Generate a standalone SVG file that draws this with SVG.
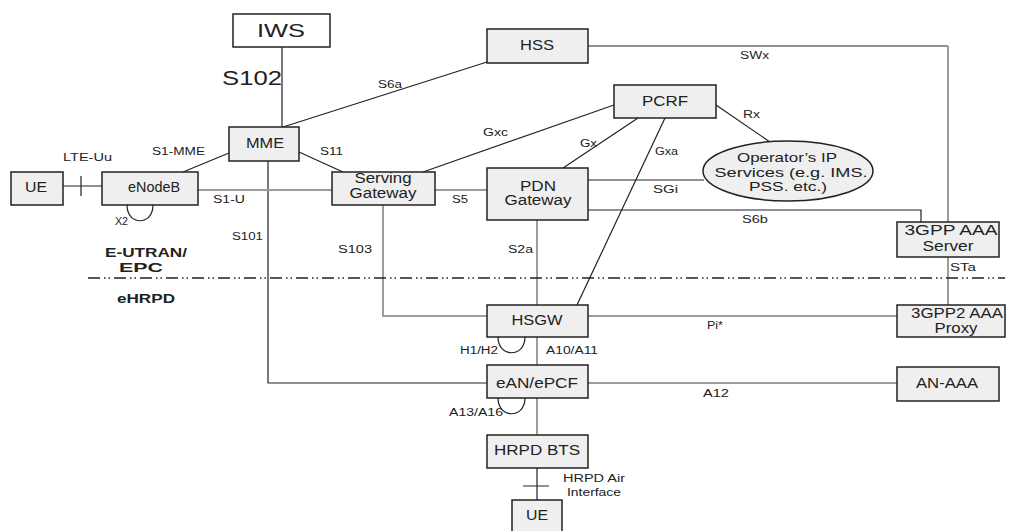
<svg xmlns="http://www.w3.org/2000/svg" width="1010" height="531" viewBox="0 0 1010 531">
<style>
.n rect,.n ellipse{fill:#efefef;stroke:#222;stroke-width:1.5}
.t{font-family:"Liberation Sans",Arial,sans-serif;fill:#222;text-anchor:middle}
.nt{font-size:14px}
.lb{font-size:10px;text-anchor:start}
.k{fill:none;stroke:#222;stroke-width:1.2}
.g{fill:none;stroke:#9c9c9c;stroke-width:2}
</style>
<rect width="1010" height="531" fill="#fff"/>
<g id="connectors">
<path class="k" d="M282,47V127"/>
<path class="k" d="M283,127L487,62"/>
<path class="k" d="M229,153L183,172"/>
<path class="k" d="M299,152L343,172"/>
<path class="k" d="M268,161V383H487"/>
<path class="k" d="M63,186H102M81,176V196"/>
<path class="g" d="M198,190H332"/>
<path class="g" d="M435,190H487"/>
<path class="g" d="M383,205V316H487"/>
<path class="g" d="M537,220V305"/>
<path class="k" d="M614,105L423,172"/>
<path class="k" d="M638,118L563,168"/>
<path class="k" d="M665,118L577,305"/>
<path class="k" d="M716,105L770,142"/>
<path class="k" d="M588,46H948"/>
<path class="g" d="M948,46V222"/>
<path class="k" d="M588,180H704"/>
<path class="k" d="M588,210H921V222"/>
<path class="g" d="M948,257V305"/>
<path class="g" d="M588,316H897"/>
<path class="g" d="M537,337V365"/>
<path class="g" d="M588,383H897"/>
<path class="g" d="M537,398V435"/>
<path class="k" d="M537,468V500M523,486H549"/>
<path class="k" d="M127,205C127,226 153,226 153,205"/>
<path class="k" d="M498,337C498,358 525,358 525,337"/>
<path class="k" d="M498,398C498,419 525,419 525,398"/>
<path d="M88,278H1005" fill="none" stroke="#222" stroke-width="1.5" stroke-dasharray="12,4,1.5,3,1.5,4"/>
</g>
<g id="labels">
<text class="t" x="222" y="85" font-size="20" text-anchor="start" textLength="60" lengthAdjust="spacingAndGlyphs" style="text-anchor:start">S102</text>
<text class="t lb" x="378" y="88" textLength="24" lengthAdjust="spacingAndGlyphs">S6a</text>
<text class="t lb" x="152" y="155" textLength="53" lengthAdjust="spacingAndGlyphs">S1-MME</text>
<text class="t lb" x="63" y="161" textLength="49" lengthAdjust="spacingAndGlyphs">LTE-Uu</text>
<text class="t lb" x="320" y="155" textLength="23" lengthAdjust="spacingAndGlyphs">S11</text>
<text class="t lb" x="483" y="136" textLength="25" lengthAdjust="spacingAndGlyphs">Gxc</text>
<text class="t lb" x="580" y="147" textLength="17" lengthAdjust="spacingAndGlyphs">Gx</text>
<text class="t lb" x="655" y="155" textLength="23" lengthAdjust="spacingAndGlyphs">Gxa</text>
<text class="t lb" x="740" y="59" textLength="29" lengthAdjust="spacingAndGlyphs">SWx</text>
<text class="t lb" x="743" y="118" textLength="17" lengthAdjust="spacingAndGlyphs">Rx</text>
<text class="t lb" x="213" y="203" textLength="32" lengthAdjust="spacingAndGlyphs">S1-U</text>
<text class="t lb" x="115" y="225" textLength="13" lengthAdjust="spacingAndGlyphs">X2</text>
<text class="t lb" x="232" y="240" textLength="31" lengthAdjust="spacingAndGlyphs">S101</text>
<text class="t lb" x="452" y="203" textLength="16" lengthAdjust="spacingAndGlyphs">S5</text>
<text class="t lb" x="338" y="253" textLength="34" lengthAdjust="spacingAndGlyphs">S103</text>
<text class="t lb" x="508" y="253" textLength="25" lengthAdjust="spacingAndGlyphs">S2a</text>
<text class="t lb" x="653" y="193" textLength="25" lengthAdjust="spacingAndGlyphs">SGi</text>
<text class="t lb" x="742" y="223" textLength="26" lengthAdjust="spacingAndGlyphs">S6b</text>
<text class="t lb" x="950" y="271" textLength="26" lengthAdjust="spacingAndGlyphs">STa</text>
<text class="t lb" x="707" y="329" textLength="16" lengthAdjust="spacingAndGlyphs">Pi*</text>
<text class="t lb" x="460" y="354" textLength="38" lengthAdjust="spacingAndGlyphs">H1/H2</text>
<text class="t lb" x="546" y="354" textLength="52" lengthAdjust="spacingAndGlyphs">A10/A11</text>
<text class="t lb" x="449" y="416" textLength="54" lengthAdjust="spacingAndGlyphs">A13/A16</text>
<text class="t lb" x="703" y="397" textLength="26" lengthAdjust="spacingAndGlyphs">A12</text>
<text class="t lb" x="563" y="482" textLength="62" lengthAdjust="spacingAndGlyphs">HRPD Air</text>
<text class="t lb" x="567" y="496" textLength="54" lengthAdjust="spacingAndGlyphs">Interface</text>
<text class="t" x="146" y="257" font-size="12" font-weight="bold" textLength="82" lengthAdjust="spacingAndGlyphs">E-UTRAN/</text>
<text class="t" x="141" y="272" font-size="12" font-weight="bold" textLength="44" lengthAdjust="spacingAndGlyphs">EPC</text>
<text class="t" x="146" y="303" font-size="12" font-weight="bold" textLength="58" lengthAdjust="spacingAndGlyphs">eHRPD</text>
</g>
<g id="IWS" class="n"><rect x="233" y="14" width="97" height="33" style="fill:#fff"/><text class="t" x="281" y="37" font-size="18" textLength="48" lengthAdjust="spacingAndGlyphs">IWS</text></g>
<g id="HSS" class="n"><rect x="487" y="29" width="101" height="34"/><text class="t nt" x="537" y="50" textLength="34" lengthAdjust="spacingAndGlyphs">HSS</text></g>
<g id="MME" class="n"><rect x="229" y="127" width="70" height="34"/><text class="t nt" x="265" y="148" textLength="38" lengthAdjust="spacingAndGlyphs">MME</text></g>
<g id="PCRF" class="n"><rect x="614" y="85" width="102" height="33"/><text class="t nt" x="665" y="106" textLength="46" lengthAdjust="spacingAndGlyphs">PCRF</text></g>
<g id="UE1" class="n"><rect x="11" y="172" width="52" height="33"/><text class="t nt" x="36" y="192" textLength="22" lengthAdjust="spacingAndGlyphs">UE</text></g>
<g id="eNodeB" class="n"><rect x="102" y="172" width="96" height="33"/><text class="t nt" x="154" y="192" textLength="52" lengthAdjust="spacingAndGlyphs">eNodeB</text></g>
<g id="ServingGateway" class="n"><rect x="332" y="172" width="103" height="33"/><text class="t nt" x="383" y="183" textLength="57" lengthAdjust="spacingAndGlyphs">Serving</text><text class="t nt" x="383" y="198" textLength="67" lengthAdjust="spacingAndGlyphs">Gateway</text></g>
<g id="PDNGateway" class="n"><rect x="487" y="168" width="101" height="52"/><text class="t nt" x="538" y="191" textLength="36" lengthAdjust="spacingAndGlyphs">PDN</text><text class="t nt" x="538" y="205" textLength="67" lengthAdjust="spacingAndGlyphs">Gateway</text></g>
<g id="OperatorIPServices" class="n"><ellipse cx="788" cy="171" rx="85" ry="30"/><text class="t" font-size="13" x="787" y="162" textLength="100" lengthAdjust="spacingAndGlyphs">Operator’s IP</text><text class="t" font-size="13" x="791" y="177" textLength="153" lengthAdjust="spacingAndGlyphs">Services (e.g. IMS.</text><text class="t" font-size="13" x="788" y="191" textLength="78" lengthAdjust="spacingAndGlyphs">PSS. etc.)</text></g>
<g id="AAAServer" class="n"><rect x="897" y="222" width="102" height="35"/><text class="t nt" x="951" y="235" textLength="93" lengthAdjust="spacingAndGlyphs">3GPP AAA</text><text class="t nt" x="948" y="251" textLength="51" lengthAdjust="spacingAndGlyphs">Server</text></g>
<g id="HSGW" class="n"><rect x="487" y="305" width="101" height="32"/><text class="t nt" x="537" y="325" textLength="51" lengthAdjust="spacingAndGlyphs">HSGW</text></g>
<g id="AAAProxy" class="n"><rect x="897" y="305" width="108" height="32"/><text class="t nt" x="957" y="318" textLength="92" lengthAdjust="spacingAndGlyphs">3GPP2 AAA</text><text class="t nt" x="956" y="333" textLength="43" lengthAdjust="spacingAndGlyphs">Proxy</text></g>
<g id="eANePCF" class="n"><rect x="487" y="365" width="101" height="33"/><text class="t nt" x="537" y="388" textLength="82" lengthAdjust="spacingAndGlyphs">eAN/ePCF</text></g>
<g id="ANAAA" class="n"><rect x="897" y="367" width="102" height="34"/><text class="t nt" x="947" y="388" textLength="62" lengthAdjust="spacingAndGlyphs">AN-AAA</text></g>
<g id="HRPDBTS" class="n"><rect x="487" y="435" width="101" height="33"/><text class="t nt" x="537" y="455" textLength="86" lengthAdjust="spacingAndGlyphs">HRPD BTS</text></g>
<g id="UE2" class="n"><rect x="512" y="500" width="50" height="34"/><text class="t nt" x="537" y="520" textLength="22" lengthAdjust="spacingAndGlyphs">UE</text></g>
</svg>
